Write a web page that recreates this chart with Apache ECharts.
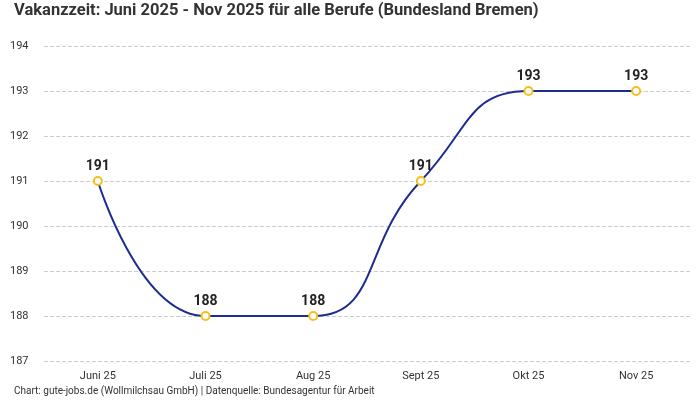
<!DOCTYPE html>
<html>
<head>
<meta charset="utf-8">
<script src="https://cdn.jsdelivr.net/npm/echarts@6/dist/echarts.min.js"></script>
<style>html,body{margin:0;padding:0;background:#fff}#c{width:700px;height:400px}</style>
</head>
<body>
<div id="c"></div>
<script>
const categories = ['Juni 25', 'Juli 25', 'Aug 25', 'Sept 25', 'Okt 25', 'Nov 25'];
const values = [191, 188, 188, 191, 193, 193];
const titleText = 'Vakanzzeit: Juni 2025 - Nov 2025 für alle Berufe (Bundesland Bremen)';
const footerText = 'Chart: gute-jobs.de (Wollmilchsau GmbH) | Datenquelle: Bundesagentur für Arbeit';
const FONT = 'Roboto, "Noto Sans", sans-serif';

const chart = echarts.init(document.getElementById('c'));
chart.setOption({
  animation: false,
  textStyle: { fontFamily: FONT },
  title: [
    { text: titleText, left: 9, top: -3, textStyle: { fontFamily: FONT, fontSize: 16.5, fontWeight: 'bold', color: '#333' } },
    { text: footerText, left: 9, top: 381, textStyle: { fontFamily: FONT, fontSize: 10, fontWeight: 'normal', color: '#333' } }
  ],
  grid: { left: 44, right: 10, top: 46, bottom: 39 },
  xAxis: {
    type: 'category',
    data: categories,
    boundaryGap: true,
    axisLine: { show: false },
    axisTick: { show: false },
    axisLabel: { color: '#333', fontSize: 11, margin: 10, fontFamily: FONT }
  },
  yAxis: {
    type: 'value',
    min: 187, max: 194, interval: 1,
    axisLine: { show: false },
    axisTick: { show: false },
    axisLabel: { color: '#333', fontSize: 11, align: 'left', margin: 34, fontFamily: FONT },
    splitLine: { lineStyle: { type: 'dashed', color: '#ccc' } }
  },
  series: [{
    type: 'line',
    data: values,
    smooth: 0.5,
    symbol: 'circle',
    symbolSize: 8,
    lineStyle: { color: '#1c2d8f', width: 2 },
    itemStyle: { color: '#fff', borderColor: '#f5c01e', borderWidth: 2 },
    label: { show: true, position: 'top', distance: 3, color: '#222', fontSize: 14, fontWeight: 'bold', fontFamily: FONT }
  }]
});
</script>
</body>
</html>
